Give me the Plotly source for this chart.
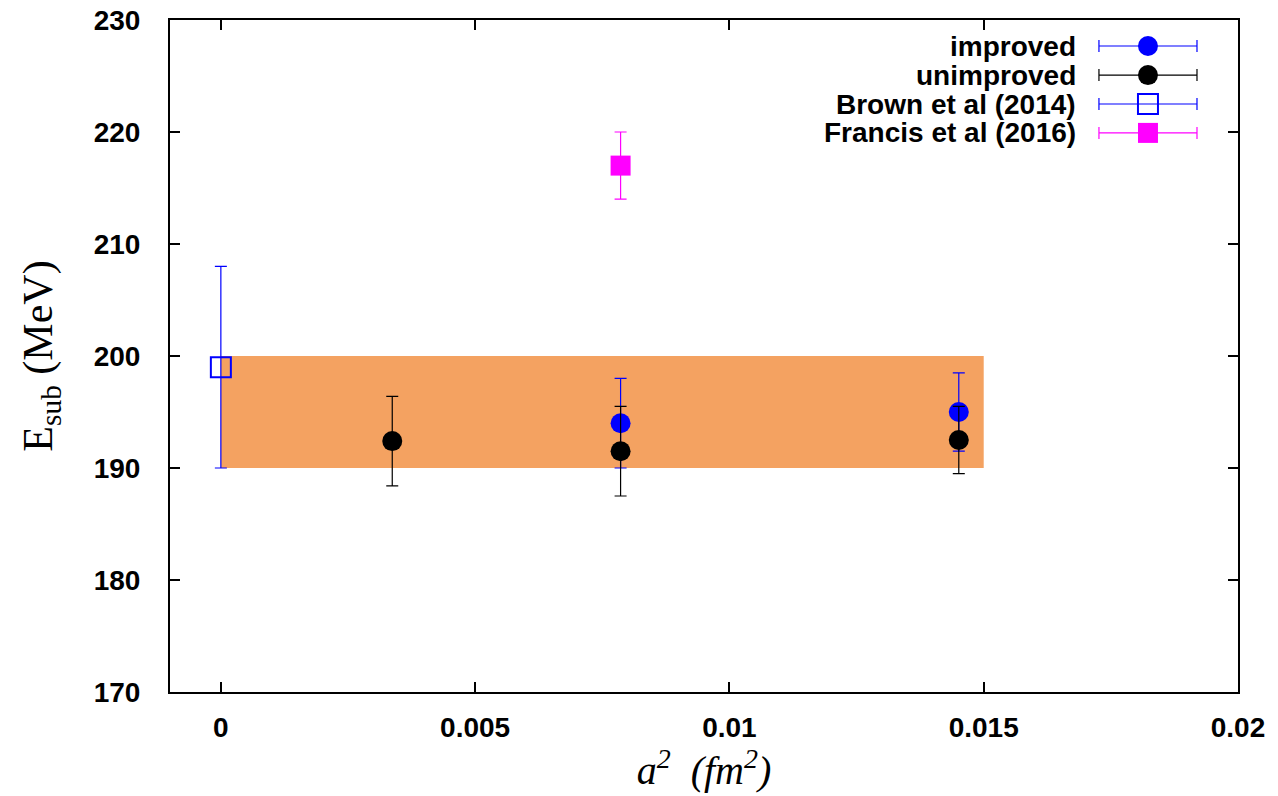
import plotly.graph_objects as go

# Lattice spacing squared (fm^2) and subtracted energies (MeV)
improved_a2 = [0.00786, 0.01451]
improved_E = [194.0, 195.0]
improved_err = [4.0, 3.5]

unimproved_a2 = [0.00337, 0.00786, 0.01451]
unimproved_E = [192.4, 191.5, 192.5]
unimproved_err = [4.0, 4.0, 3.0]

brown_a2 = [0.0]
brown_E = [199.0]
brown_err = [9.0]

francis_a2 = [0.00786]
francis_E = [217.0]
francis_err = [3.0]

# Final estimate band
band_a2 = [0.0, 0.015]
band_lo = 190.0
band_hi = 200.0

x_ticks = [0, 0.005, 0.01, 0.015, 0.02]
x_ticktext = ["0", "0.005", "0.01", "0.015", "0.02"]
y_ticks = [170, 180, 190, 200, 210, 220, 230]

series = [
    dict(name="improved", x=improved_a2, y=improved_E, err=improved_err,
         color="#0000FF", symbol="circle", size=20, fill="#0000FF"),
    dict(name="unimproved", x=unimproved_a2, y=unimproved_E, err=unimproved_err,
         color="#000000", symbol="circle", size=20, fill="#000000"),
    dict(name="Brown et al (2014)", x=brown_a2, y=brown_E, err=brown_err,
         color="#0000FF", symbol="square-open", size=20, fill="#0000FF"),
    dict(name="Francis et al (2016)", x=francis_a2, y=francis_E, err=francis_err,
         color="#FF00FF", symbol="square", size=20, fill="#FF00FF"),
]

fig = go.Figure()

# orange band
fig.add_trace(go.Scatter(
    x=[band_a2[0], band_a2[1], band_a2[1], band_a2[0], band_a2[0]],
    y=[band_lo, band_lo, band_hi, band_hi, band_lo],
    fill="toself", fillcolor="#F4A261", mode="lines",
    line=dict(width=0, color="#F4A261"), hoverinfo="skip", showlegend=False,
))

for s in series:
    fig.add_trace(go.Scatter(
        x=s["x"], y=s["y"], mode="markers", name=s["name"], showlegend=False,
        marker=dict(symbol=s["symbol"], size=s["size"], color=s["fill"],
                    line=dict(width=2 if "open" in s["symbol"] else 0, color=s["color"])),
        error_y=dict(type="data", array=s["err"], visible=True,
                     color=s["color"], thickness=1.2, width=6),
    ))

# key entries drawn on a hidden overlay axis: text on the left, sample on the right
key_x = 0.9157
key_half = 0.0459
key_rows = [0.9613, 0.918, 0.875, 0.832]
for s, ky in zip(series, key_rows):
    fig.add_trace(go.Scatter(
        x=[key_x], y=[ky], xaxis="x2", yaxis="y2", mode="markers", showlegend=False,
        hoverinfo="skip",
        marker=dict(symbol=s["symbol"], size=s["size"], color=s["fill"],
                    line=dict(width=2 if "open" in s["symbol"] else 0, color=s["color"])),
        error_x=dict(type="constant", value=key_half, visible=True,
                     color=s["color"], thickness=1.2, width=6),
    ))
    fig.add_annotation(
        x=key_x - key_half - 0.02, y=ky, xref="x2", yref="y2",
        text=s["name"], showarrow=False, xanchor="right", yanchor="middle",
        font=dict(family="Liberation Sans, Arial", size=28, color="black", weight="bold"),
    )

axis_font = dict(family="Liberation Sans, Arial", size=28, color="black", weight="bold")

fig.update_layout(
    width=1278, height=796,
    margin=dict(l=170, r=40, t=20, b=104),
    paper_bgcolor="white", plot_bgcolor="white",
    xaxis=dict(
        range=[-0.001, 0.02], tickvals=x_ticks, ticktext=x_ticktext,
        ticks="inside", ticklen=10, tickwidth=1.5, tickcolor="black",
        showline=True, linewidth=2, linecolor="black", mirror="ticks",
        showgrid=False, zeroline=False, tickfont=axis_font, ticklabelstandoff=9,
        automargin=False,
        title=dict(text="<i>a<sup>2</sup>  (fm<sup>2</sup>)</i>",
                   font=dict(family="Liberation Serif, Times New Roman", size=40, color="black"),
                   standoff=2),
    ),
    yaxis=dict(
        range=[170, 230], tickvals=y_ticks,
        ticks="inside", ticklen=10, tickwidth=1.5, tickcolor="black",
        showline=True, linewidth=2, linecolor="black", mirror="ticks",
        showgrid=False, zeroline=False, tickfont=axis_font, ticklabelstandoff=22,
        automargin=False,
        title=dict(text="E<sub>sub</sub> (MeV)",
                   font=dict(family="Liberation Serif, Times New Roman", size=42, color="black"),
                   standoff=28),
    ),
    xaxis2=dict(range=[0, 1], overlaying="x", visible=False, fixedrange=True),
    yaxis2=dict(range=[0, 1], overlaying="y", visible=False, fixedrange=True),
    showlegend=False,
)

fig.write_html("out.html")
